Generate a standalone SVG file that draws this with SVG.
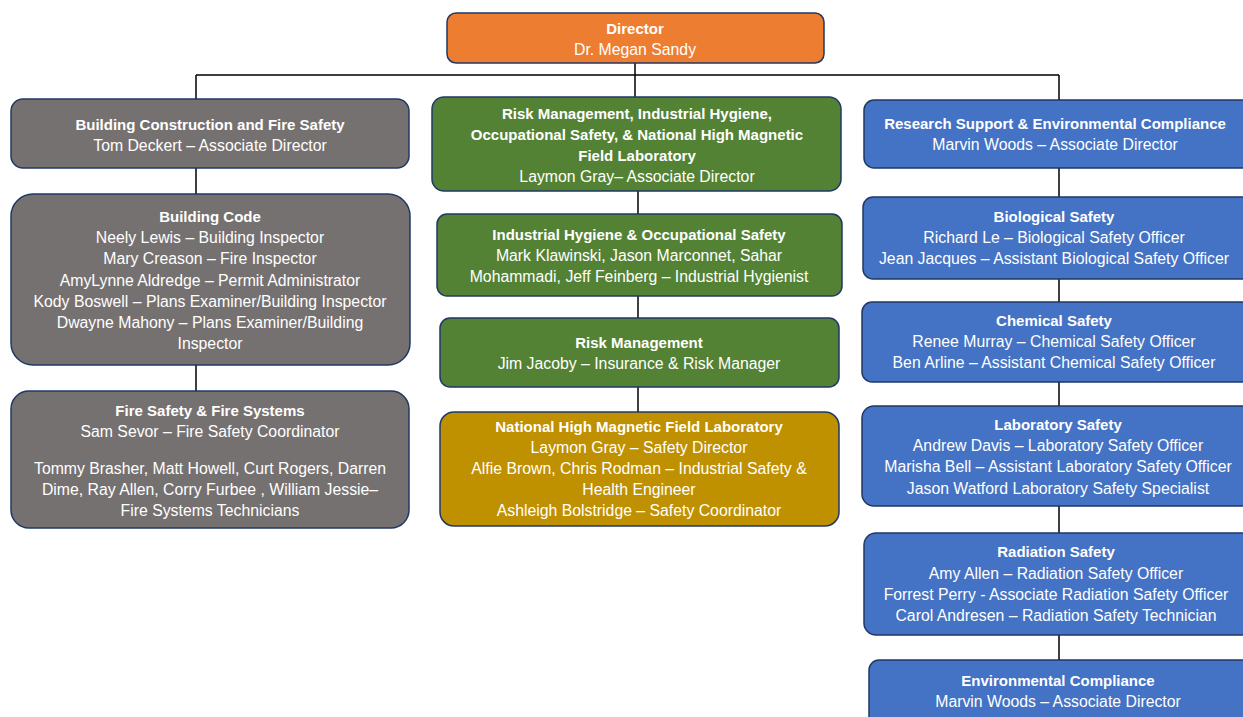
<svg xmlns="http://www.w3.org/2000/svg" width="1243" height="717" viewBox="0 0 1243 717">
<style>
.box{stroke:#203864;stroke-width:1.5}
.or{fill:#ED7D31}.gr{fill:#767171}.gn{fill:#548235}.gd{fill:#BF9000}.bl{fill:#4472C4}
text{font-family:"Liberation Sans",Arial,sans-serif;font-size:15.8px;fill:#fff;text-anchor:middle}
.b{font-weight:bold;font-size:15px}
.ln{stroke:#000;stroke-width:1.5;fill:none}
</style>
<rect width="1243" height="717" fill="#fff"/>
<g id="connectors">
<path class="ln" d="M635 63V97M196 75H1059M196 75V99M1059 75V100M196 168V194M196 365V391M638 191V214M638 296V318M638 387V412M1059 168V197M1059 279V302M1059 382V406M1059 506V533M1059 635V660"/>
</g>
<g id="director">
<rect class="box or" x="447" y="13" width="377" height="50" rx="9"/>
<text class="b" x="635" y="34">Director</text>
<text x="635" y="55">Dr. Megan Sandy</text>
</g>
<g id="bcfs">
<rect class="box gr" x="11" y="99" width="398" height="69" rx="12"/>
<text class="b" x="210" y="130">Building Construction and Fire Safety</text>
<text x="210" y="151">Tom Deckert – Associate Director</text>
</g>
<g id="building-code">
<rect class="box gr" x="11" y="194" width="399" height="171" rx="22"/>
<text class="b" x="210" y="222">Building Code</text>
<text x="210" y="243">Neely Lewis – Building Inspector</text>
<text x="210" y="264">Mary Creason – Fire Inspector</text>
<text x="210" y="286">AmyLynne Aldredge – Permit Administrator</text>
<text x="210" y="307">Kody Boswell – Plans Examiner/Building Inspector</text>
<text x="210" y="328">Dwayne Mahony – Plans Examiner/Building</text>
<text x="210" y="349">Inspector</text>
</g>
<g id="fire-safety">
<rect class="box gr" x="11" y="391" width="398" height="137" rx="18"/>
<text class="b" x="210" y="416">Fire Safety &amp; Fire Systems</text>
<text x="210" y="437">Sam Sevor – Fire Safety Coordinator</text>
<text x="210" y="474">Tommy Brasher, Matt Howell, Curt Rogers, Darren</text>
<text x="210" y="495">Dime, Ray Allen, Corry Furbee , William Jessie–</text>
<text x="210" y="516">Fire Systems Technicians</text>
</g>
<g id="rm-ih">
<rect class="box gn" x="432" y="97" width="409" height="94" rx="12"/>
<text class="b" x="637" y="119">Risk Management, Industrial Hygiene,</text>
<text class="b" x="637" y="140">Occupational Safety, &amp; National High Magnetic</text>
<text class="b" x="637" y="161">Field Laboratory</text>
<text x="637" y="182">Laymon Gray– Associate Director</text>
</g>
<g id="ih-os">
<rect class="box gn" x="437" y="214" width="405" height="82" rx="10"/>
<text class="b" x="639" y="240">Industrial Hygiene &amp; Occupational Safety</text>
<text x="639" y="261">Mark Klawinski, Jason Marconnet, Sahar</text>
<text x="639" y="282">Mohammadi, Jeff Feinberg – Industrial Hygienist</text>
</g>
<g id="risk-mgmt">
<rect class="box gn" x="440" y="318" width="399" height="69" rx="10"/>
<text class="b" x="639" y="348">Risk Management</text>
<text x="639" y="369">Jim Jacoby – Insurance &amp; Risk Manager</text>
</g>
<g id="nhmfl">
<rect class="box gd" x="440" y="412" width="399" height="114" rx="14"/>
<text class="b" x="639" y="432">National High Magnetic Field Laboratory</text>
<text x="639" y="453">Laymon Gray – Safety Director</text>
<text x="639" y="474">Alfie Brown, Chris Rodman – Industrial Safety &amp;</text>
<text x="639" y="495">Health Engineer</text>
<text x="639" y="516">Ashleigh Bolstridge – Safety Coordinator</text>
</g>
<g id="rsec">
<rect class="box bl" x="864" y="100" width="390" height="68" rx="10"/>
<text class="b" x="1055" y="129">Research Support &amp; Environmental Compliance</text>
<text x="1055" y="150">Marvin Woods – Associate Director</text>
</g>
<g id="bio">
<rect class="box bl" x="863" y="197" width="391" height="82" rx="10"/>
<text class="b" x="1054" y="222">Biological Safety</text>
<text x="1054" y="243">Richard Le – Biological Safety Officer</text>
<text x="1054" y="264">Jean Jacques – Assistant Biological Safety Officer</text>
</g>
<g id="chem">
<rect class="box bl" x="862" y="302" width="392" height="80" rx="10"/>
<text class="b" x="1054" y="326">Chemical Safety</text>
<text x="1054" y="347">Renee Murray – Chemical Safety Officer</text>
<text x="1054" y="368">Ben Arline – Assistant Chemical Safety Officer</text>
</g>
<g id="lab">
<rect class="box bl" x="862" y="406" width="392" height="100" rx="12"/>
<text class="b" x="1058" y="430">Laboratory Safety</text>
<text x="1058" y="451">Andrew Davis – Laboratory Safety Officer</text>
<text x="1058" y="472">Marisha Bell – Assistant Laboratory Safety Officer</text>
<text x="1058" y="494">Jason Watford Laboratory Safety Specialist</text>
</g>
<g id="rad">
<rect class="box bl" x="864" y="533" width="390" height="102" rx="12"/>
<text class="b" x="1056" y="557">Radiation Safety</text>
<text x="1056" y="579">Amy Allen – Radiation Safety Officer</text>
<text x="1056" y="600">Forrest Perry - Associate Radiation Safety Officer</text>
<text x="1056" y="621">Carol Andresen – Radiation Safety Technician</text>
</g>
<g id="env">
<rect class="box bl" x="869" y="660" width="385" height="70" rx="10"/>
<text class="b" x="1058" y="686">Environmental Compliance</text>
<text x="1058" y="707">Marvin Woods – Associate Director</text>
</g>
</svg>
